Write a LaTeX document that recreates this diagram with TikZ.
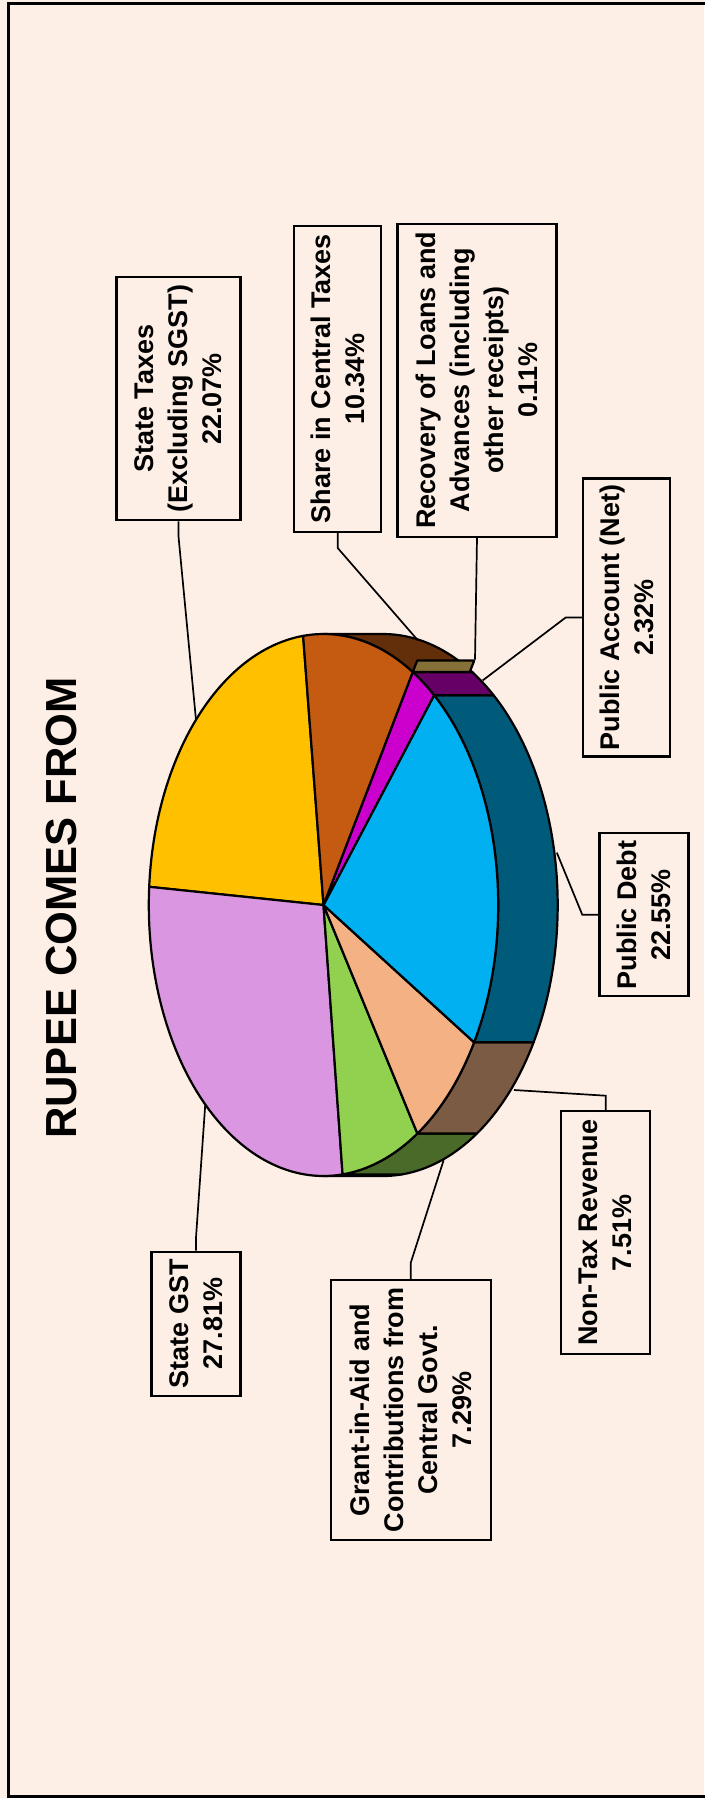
\documentclass[tikz,border=0pt]{standalone}
\usepackage{fontspec}
\setmainfont{Liberation Sans}
\usetikzlibrary{calc}
\definecolor{bgpeach}{HTML}{FDEFE6}
\definecolor{yellowtop}{HTML}{FFC000}
\definecolor{orangetop}{HTML}{C55A11}
\definecolor{orangeside}{HTML}{632E0A}
\definecolor{magtop}{HTML}{CC00CC}
\definecolor{magside}{HTML}{660066}
\definecolor{cyantop}{HTML}{00B0F0}
\definecolor{cyanside}{HTML}{005A7A}
\definecolor{peachtop}{HTML}{F4B183}
\definecolor{peachside}{HTML}{7B5B44}
\definecolor{greentop}{HTML}{92D050}
\definecolor{greenside}{HTML}{496A28}
\definecolor{violettop}{HTML}{DA96E0}
\definecolor{violetside}{HTML}{6D4B70}
\definecolor{khaki}{HTML}{857037}
\begin{document}
\begin{tikzpicture}[x=1pt,y=1pt,
  lbl/.style={draw,line width=2.2pt,fill=bgpeach,rotate=90,align=center,inner sep=0pt,font=\fontsize{27}{34}\selectfont\bfseries},
  lead/.style={line width=1.7pt},
  rim/.style={draw=black,line width=2.2pt,line join=round}]
\useasboundingbox (0,0) rectangle (704,-1798);
\fill[bgpeach] (0,0) rectangle (704,-1798);
\draw[line width=3pt] (712,-3.5) -- (8.5,-3.5) -- (8.5,-1796.5) -- (712,-1796.5);
\node[rotate=90,font=\fontsize{43.5}{50}\selectfont\bfseries] (title) at (62,-908) {RUPEE COMES FROM};
\coordinate (O) at (323.5,-905);
\foreach \a/\b/\c in {270/276.27/violetside,276.27/302.51/greenside,302.51/329.55/peachside,329.55/410.73/cyanside,410.73/419.28/magside,419.28/450/orangeside}
  \filldraw[rim,fill=\c] ($(O)+(\a:174.7 and 271)$) arc[start angle=\a,end angle=\b,x radius=174.7,y radius=271] -- ++(59.5,0) arc[start angle=\b,end angle=\a,x radius=174.7,y radius=271] -- cycle;
\foreach \a/\b/\c in {96.7/176.15/yellowtop,176.15/276.27/violettop,276.27/302.51/greentop,302.51/329.55/peachtop,329.55/410.73/cyantop,410.73/419.28/magtop,419.28/456.7/orangetop}
  \filldraw[rim,fill=\c] (O) -- ($(O)+(\a:174.7 and 271)$) arc[start angle=\a,end angle=\b,x radius=174.7,y radius=271] -- cycle;
\filldraw[rim,fill=khaki] ($(O)+(59.28:174.7 and 271)$) -- ++(4.5,11.5) -- ++(57,0) -- ++(-4.5,-11.5) -- cycle;
\coordinate (stEnd) at (196,-720);
\coordinate (shEnd) at (417.6,-640);
\coordinate (rcEnd) at (475,-659.5);
\coordinate (paEnd) at (482.7,-680.4);
\coordinate (pdEnd) at (556.8,-852.6);
\coordinate (ntEnd) at (514,-1090);
\coordinate (gaEnd) at (443.6,-1160.3);
\coordinate (sgEnd) at (205.2,-1105.2);
\node[lbl,minimum width=243pt,minimum height=124pt] (st) at (178.5,-398.8) {State Taxes\\(Excluding SGST)\\22.07\%};
\node[lbl,minimum width=306pt,minimum height=87pt] (sh) at (337.7,-378.9) {Share in Central Taxes\\10.34\%};
\node[lbl,minimum width=313pt,minimum height=159pt] (rc) at (477,-380.2) {Recovery of Loans and\\Advances (including\\other receipts)\\0.11\%};
\node[lbl,minimum width=278pt,minimum height=87pt] (pa) at (626.8,-617.5) {Public Account (Net)\\2.32\%};
\node[lbl,minimum width=163pt,minimum height=89pt] (pd) at (643.9,-914.8) {Public Debt\\22.55\%};
\node[lbl,minimum width=243pt,minimum height=89pt] (nt) at (605.7,-1232.8) {Non-Tax Revenue\\7.51\%};
\node[lbl,minimum width=260pt,minimum height=160pt] (ga) at (410.8,-1410.2) {Grant-in-Aid and\\Contributions from\\Central Govt.\\7.29\%};
\node[lbl,minimum width=144pt,minimum height=89pt] (sg) at (196,-1323.6) {State GST\\27.81\%};
\draw[lead] (st.west) -- ++(0,-15) -- (stEnd);
\draw[lead] (sh.west) -- ++(0,-15) -- (shEnd);
\draw[lead] (rc.west) -- (rcEnd);
\draw[lead] (pa.north) -- ++(-16.5,0) -- (paEnd);
\draw[lead] (pd.north) -- ++(-16,0) -- (pdEnd);
\draw[lead] (nt.east) -- ++(0,14.5) -- (ntEnd);
\draw[lead] (ga.east) -- ++(0,16.5) -- (gaEnd);
\draw[lead] (sg.east) -- ++(0,13) -- (sgEnd);
\end{tikzpicture}
\end{document}
